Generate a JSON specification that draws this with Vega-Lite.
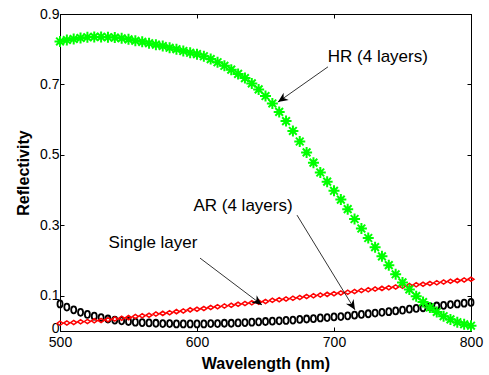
{
  "$schema": "https://vega.github.io/schema/vega-lite/v6.json",
  "autosize": "none",
  "width": 411,
  "height": 317,
  "padding": {"left": 60, "top": 14, "right": 18, "bottom": 44},
  "background": "white",
  "config": {
    "view": {"stroke": "black", "strokeWidth": 1},
    "font": "Liberation Sans",
    "axis": {
      "grid": false,
      "domainColor": "black",
      "tickColor": "black",
      "tickSize": -4,
      "labelFlush": false,
      "labelFont": "Liberation Sans",
      "labelFontSize": 14,
      "labelColor": "black",
      "titleFont": "Liberation Sans",
      "titleFontSize": 16,
      "titleFontWeight": "bold",
      "titleColor": "black"
    }
  },
  "datasets": {
    "hr": [
      {"wl":500,"r":0.822},{"wl":505,"r":0.826},{"wl":510,"r":0.829},{"wl":515,"r":0.832},{"wl":520,"r":0.834},
      {"wl":525,"r":0.835},{"wl":530,"r":0.835},{"wl":535,"r":0.834},{"wl":540,"r":0.833},{"wl":545,"r":0.831},
      {"wl":550,"r":0.828},{"wl":555,"r":0.824},{"wl":560,"r":0.821},{"wl":565,"r":0.817},{"wl":570,"r":0.813},
      {"wl":575,"r":0.809},{"wl":580,"r":0.804},{"wl":585,"r":0.800},{"wl":590,"r":0.795},{"wl":595,"r":0.790},
      {"wl":600,"r":0.786},{"wl":605,"r":0.780},{"wl":610,"r":0.772},{"wl":615,"r":0.763},{"wl":620,"r":0.753},
      {"wl":625,"r":0.742},{"wl":630,"r":0.730},{"wl":635,"r":0.718},{"wl":640,"r":0.703},{"wl":645,"r":0.686},
      {"wl":650,"r":0.667},{"wl":655,"r":0.646},{"wl":660,"r":0.622},{"wl":665,"r":0.596},{"wl":670,"r":0.568},
      {"wl":675,"r":0.538},{"wl":680,"r":0.507},{"wl":685,"r":0.478},{"wl":690,"r":0.450},{"wl":695,"r":0.424},
      {"wl":700,"r":0.398},{"wl":705,"r":0.373},{"wl":710,"r":0.346},{"wl":715,"r":0.318},{"wl":720,"r":0.291},
      {"wl":725,"r":0.264},{"wl":730,"r":0.238},{"wl":735,"r":0.212},{"wl":740,"r":0.187},{"wl":745,"r":0.161},
      {"wl":750,"r":0.138},{"wl":755,"r":0.118},{"wl":760,"r":0.099},{"wl":765,"r":0.082},{"wl":770,"r":0.067},
      {"wl":775,"r":0.054},{"wl":780,"r":0.042},{"wl":785,"r":0.033},{"wl":790,"r":0.025},{"wl":795,"r":0.019},
      {"wl":800,"r":0.015}
    ],
    "single": [
      {"wl":500,"r":0.022},{"wl":505,"r":0.023},{"wl":510,"r":0.024},{"wl":515,"r":0.026},{"wl":520,"r":0.027},
      {"wl":525,"r":0.029},{"wl":530,"r":0.030},{"wl":535,"r":0.032},{"wl":540,"r":0.034},{"wl":545,"r":0.036},
      {"wl":550,"r":0.038},{"wl":555,"r":0.041},{"wl":560,"r":0.043},{"wl":565,"r":0.045},{"wl":570,"r":0.048},
      {"wl":575,"r":0.050},{"wl":580,"r":0.052},{"wl":585,"r":0.055},{"wl":590,"r":0.057},{"wl":595,"r":0.060},
      {"wl":600,"r":0.062},{"wl":605,"r":0.064},{"wl":610,"r":0.067},{"wl":615,"r":0.069},{"wl":620,"r":0.071},
      {"wl":625,"r":0.073},{"wl":630,"r":0.076},{"wl":635,"r":0.078},{"wl":640,"r":0.080},{"wl":645,"r":0.082},
      {"wl":650,"r":0.084},{"wl":655,"r":0.087},{"wl":660,"r":0.089},{"wl":665,"r":0.091},{"wl":670,"r":0.093},
      {"wl":675,"r":0.095},{"wl":680,"r":0.098},{"wl":685,"r":0.100},{"wl":690,"r":0.102},{"wl":695,"r":0.104},
      {"wl":700,"r":0.106},{"wl":705,"r":0.108},{"wl":710,"r":0.110},{"wl":715,"r":0.112},{"wl":720,"r":0.115},
      {"wl":725,"r":0.117},{"wl":730,"r":0.119},{"wl":735,"r":0.121},{"wl":740,"r":0.123},{"wl":745,"r":0.125},
      {"wl":750,"r":0.127},{"wl":755,"r":0.129},{"wl":760,"r":0.131},{"wl":765,"r":0.133},{"wl":770,"r":0.135},
      {"wl":775,"r":0.137},{"wl":780,"r":0.139},{"wl":785,"r":0.141},{"wl":790,"r":0.143},{"wl":795,"r":0.145},
      {"wl":800,"r":0.147}
    ],
    "ar": [
      {"wl":500,"r":0.077},{"wl":505,"r":0.068},{"wl":510,"r":0.060},{"wl":515,"r":0.053},{"wl":520,"r":0.047},
      {"wl":525,"r":0.042},{"wl":530,"r":0.038},{"wl":535,"r":0.034},{"wl":540,"r":0.031},{"wl":545,"r":0.029},
      {"wl":550,"r":0.027},{"wl":555,"r":0.025},{"wl":560,"r":0.024},{"wl":565,"r":0.023},{"wl":570,"r":0.022},
      {"wl":575,"r":0.021},{"wl":580,"r":0.021},{"wl":585,"r":0.020},{"wl":590,"r":0.020},{"wl":595,"r":0.020},
      {"wl":600,"r":0.020},{"wl":605,"r":0.020},{"wl":610,"r":0.021},{"wl":615,"r":0.021},{"wl":620,"r":0.022},
      {"wl":625,"r":0.022},{"wl":630,"r":0.023},{"wl":635,"r":0.024},{"wl":640,"r":0.025},{"wl":645,"r":0.026},
      {"wl":650,"r":0.027},{"wl":655,"r":0.028},{"wl":660,"r":0.029},{"wl":665,"r":0.030},{"wl":670,"r":0.031},
      {"wl":675,"r":0.033},{"wl":680,"r":0.034},{"wl":685,"r":0.035},{"wl":690,"r":0.037},{"wl":695,"r":0.038},
      {"wl":700,"r":0.040},{"wl":705,"r":0.041},{"wl":710,"r":0.043},{"wl":715,"r":0.045},{"wl":720,"r":0.047},
      {"wl":725,"r":0.049},{"wl":730,"r":0.051},{"wl":735,"r":0.053},{"wl":740,"r":0.055},{"wl":745,"r":0.057},
      {"wl":750,"r":0.059},{"wl":755,"r":0.062},{"wl":760,"r":0.064},{"wl":765,"r":0.066},{"wl":770,"r":0.069},
      {"wl":775,"r":0.071},{"wl":780,"r":0.073},{"wl":785,"r":0.075},{"wl":790,"r":0.077},{"wl":795,"r":0.079},
      {"wl":800,"r":0.081}
    ],
    "labels": [
      {"label":"HR (4 layers)","wl":732,"r":0.778},
      {"label":"AR (4 layers)","wl":633.6,"r":0.355},
      {"label":"Single layer","wl":567.9,"r":0.25}
    ],
    "arrows": [
      {"name":"HR","wl":695.6,"r":0.750,"wl2":659.1,"r2":0.650},
      {"name":"AR","wl":673,"r":0.329,"wl2":715.3,"r2":0.060},
      {"name":"Single","wl":602.2,"r":0.207,"wl2":647.4,"r2":0.074}
    ]
  },
  "resolve": {"axis": {"x": "independent", "y": "independent"}},
  "layer": [
    {
      "data": {"name": "ar"},
      "mark": {"type": "point", "shape": "M0,-1A0.72,1,0,1,1,0,1A0.72,1,0,1,1,0,-1Z", "filled": false, "stroke": "black", "strokeWidth": 1.8, "size": 49, "opacity": 1},
      "encoding": {
        "x": {"field": "wl", "type": "quantitative", "scale": {"domain": [500, 800], "nice": false, "zero": false},
              "axis": {"values": [500, 600, 700, 800], "title": "Wavelength (nm)", "labelPadding": 8, "titlePadding": 6}},
        "y": {"field": "r", "type": "quantitative", "scale": {"domain": [0, 0.9], "nice": false},
              "axis": {"values": [0, 0.1, 0.3, 0.5, 0.7, 0.9], "format": "~g", "title": "Reflectivity", "labelPadding": 5, "titlePadding": 8,
                       "labelOffset": {"condition": {"test": "datum.value == 0", "value": -3}, "value": 0}}}
      }
    },
    {
      "data": {"name": "single"},
      "mark": {"type": "point", "shape": "M-1,0L0,-0.7L1,0L0,0.7Z", "filled": false, "stroke": "#ff0000", "strokeWidth": 1.5, "size": 36, "opacity": 1},
      "encoding": {
        "x": {"field": "wl", "type": "quantitative", "axis": null},
        "y": {"field": "r", "type": "quantitative", "axis": null}
      }
    },
    {
      "data": {"name": "hr"},
      "mark": {"type": "point", "shape": "M-1,0L1,0M0,-1L0,1M-0.7,-0.7L0.7,0.7M-0.7,0.7L0.7,-0.7", "filled": false, "stroke": "#00ff00", "strokeWidth": 2, "size": 121, "opacity": 1},
      "encoding": {
        "x": {"field": "wl", "type": "quantitative", "axis": null},
        "y": {"field": "r", "type": "quantitative", "axis": null}
      }
    },
    {
      "data": {"name": "labels"},
      "mark": {"type": "text", "font": "Liberation Sans", "fontSize": 17, "color": "black", "align": "center", "baseline": "middle"},
      "encoding": {
        "x": {"field": "wl", "type": "quantitative", "axis": null},
        "y": {"field": "r", "type": "quantitative", "axis": null},
        "text": {"field": "label"}
      }
    },
    {
      "data": {"name": "arrows"},
      "mark": {"type": "rule", "color": "black", "strokeWidth": 0.8},
      "encoding": {
        "x": {"field": "wl", "type": "quantitative", "axis": null},
        "y": {"field": "r", "type": "quantitative", "axis": null},
        "x2": {"field": "wl2"},
        "y2": {"field": "r2"}
      }
    },
    {
      "data": {"name": "arrows"},
      "transform": [{"filter": "datum.name == 'HR'"}],
      "mark": {"type": "point", "shape": "M0,0L-0.45,1L0,0.7L0.45,1Z", "filled": true, "color": "black", "size": 400, "angle": 235, "opacity": 1},
      "encoding": {
        "x": {"field": "wl2", "type": "quantitative", "axis": null},
        "y": {"field": "r2", "type": "quantitative", "axis": null}
      }
    },
    {
      "data": {"name": "arrows"},
      "transform": [{"filter": "datum.name == 'AR'"}],
      "mark": {"type": "point", "shape": "M0,0L-0.45,1L0,0.7L0.45,1Z", "filled": true, "color": "black", "size": 400, "angle": 148.6, "opacity": 1},
      "encoding": {
        "x": {"field": "wl2", "type": "quantitative", "axis": null},
        "y": {"field": "r2", "type": "quantitative", "axis": null}
      }
    },
    {
      "data": {"name": "arrows"},
      "transform": [{"filter": "datum.name == 'Single'"}],
      "mark": {"type": "point", "shape": "M0,0L-0.45,1L0,0.7L0.45,1Z", "filled": true, "color": "black", "size": 400, "angle": 127.2, "opacity": 1},
      "encoding": {
        "x": {"field": "wl2", "type": "quantitative", "axis": null},
        "y": {"field": "r2", "type": "quantitative", "axis": null}
      }
    },
    {
      "data": {"name": "hr"},
      "mark": {"type": "point", "opacity": 0},
      "encoding": {
        "x": {"field": "wl", "type": "quantitative",
              "axis": {"orient": "top", "values": [500, 600, 700, 800], "labels": false, "title": null}},
        "y": {"field": "r", "type": "quantitative",
              "axis": {"orient": "right", "values": [0, 0.1, 0.3, 0.5, 0.7, 0.9], "labels": false, "title": null}}
      }
    }
  ]
}
